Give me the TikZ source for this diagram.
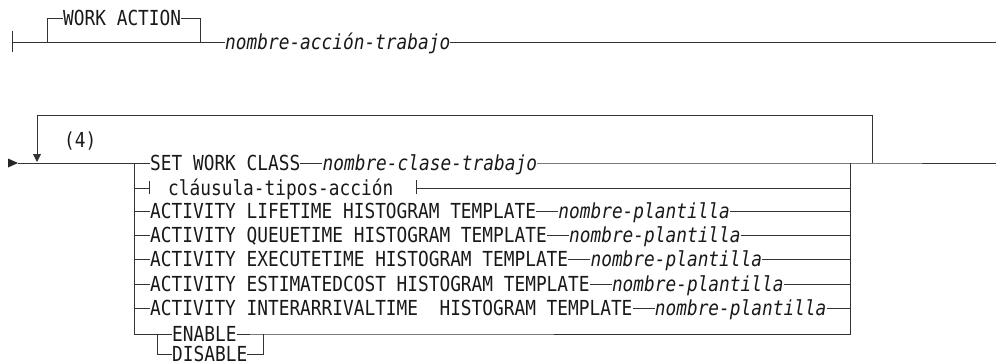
\documentclass[tikz,border=0pt]{standalone}
\usepackage{fontspec}
\newfontfamily\rrfont[FakeStretch=0.86]{DejaVu Sans Mono}
\usetikzlibrary{arrows.meta,positioning}

\begin{document}
\begin{tikzpicture}[
  x=1pt, y=-1pt,
  node distance=0pt and 22pt,
  kw/.style={inner sep=0pt,anchor=west,text height=14.5pt,text depth=0pt,
             text=black!90,font=\rrfont\fontsize{20.7}{22}\selectfont},
  var/.style={kw,font=\rrfont\fontsize{20.7}{22}\selectfont\itshape},
  rail/.style={line width=0.9pt,draw=black!80},
  tip/.style={-{Triangle[length=8pt,width=8pt]}}
]
\useasboundingbox (0,0) rectangle (997,364);

% top diagram
\coordinate (s1) at (12,42);
\coordinate (b1l) at (47,42);
\coordinate (b1r) at (200,42);
\coordinate (e1) at (996,42);
\node[kw]  (wa)  at (63,18)  {WORK ACTION};
\node[var] (nat) at (225,42) {nombre-acción-trabajo};

\draw[rail] ([yshift=-10pt]s1) -- ([yshift=11pt]s1);
\draw[rail] (s1) -- (nat.west);
\draw[rail] (b1l) |- (wa.west);
\draw[rail] (wa.east) -| (b1r);
\draw[rail] (nat.east) -- (e1);

% main diagram
\coordinate (s2) at (18,163);
\coordinate (jl) at (134,163);
\coordinate (jr) at (850,163);
\coordinate (e2) at (996,163);
\coordinate (lp) at (872,163);
\coordinate (lt) at (872,115);
\coordinate (la) at (37,162);
\fill[black!85] (8,158.5) -- (s2) -- (8,167.5) -- cycle;

\node[kw] (rep) at (64,140) {(4)};

\node[kw]              (swc)  at (150,163) {SET WORK CLASS};
\node[var,right=of swc] (ncl)  {nombre-clase-trabajo};

\node[kw] (cta) at (168,188) {cláusula-tipos-acción};
\coordinate (ctl) at (149,188);
\coordinate (ctr) at (416,188);

\node[kw]               (alt)   at (150,211) {ACTIVITY LIFETIME HISTOGRAM TEMPLATE};
\node[var,right=of alt] (alt-n) {nombre-plantilla};
\node[kw]               (aqt)   at (150,235) {ACTIVITY QUEUETIME HISTOGRAM TEMPLATE};
\node[var,right=of aqt] (aqt-n) {nombre-plantilla};
\node[kw]               (aet)   at (150,259) {ACTIVITY EXECUTETIME HISTOGRAM TEMPLATE};
\node[var,right=of aet] (aet-n) {nombre-plantilla};
\node[kw]               (aec)   at (150,284) {ACTIVITY ESTIMATEDCOST HISTOGRAM TEMPLATE};
\node[var,right=of aec] (aec-n) {nombre-plantilla};
\node[kw]               (aia)   at (150,308) {ACTIVITY INTERARRIVALTIME\ \ HISTOGRAM TEMPLATE};
\node[var,right=of aia] (aia-n) {nombre-plantilla};

\node[kw] (en)  at (172,334) {ENABLE};
\node[kw] (dis) at (172,354) {DISABLE};
\coordinate (el) at (157,334);
\coordinate (er) at (263,334);

% repeat loop
\draw[rail,tip] (lp) -- (lt) -| (la);

\draw[rail] (s2) -- (swc.west);
\draw[rail] (swc.east) -- (ncl.west);
\draw[rail] (ncl.east) -- (jr) -- (e2);

\draw[rail] (jl |- cta) -- (ctl);
\draw[rail] ([yshift=-6pt]ctl) -- ([yshift=7pt]ctl);
\draw[rail] ([yshift=-6pt]ctr) -- ([yshift=8pt]ctr);
\draw[rail] (ctr) -- (jr |- cta);

\draw[rail] (jl |- alt) -- (alt.west) (alt.east) -- (alt-n.west) (alt-n.east) -- (jr |- alt);
\draw[rail] (jl |- aqt) -- (aqt.west) (aqt.east) -- (aqt-n.west) (aqt-n.east) -- (jr |- aqt);
\draw[rail] (jl |- aet) -- (aet.west) (aet.east) -- (aet-n.west) (aet-n.east) -- (jr |- aet);
\draw[rail] (jl |- aec) -- (aec.west) (aec.east) -- (aec-n.west) (aec-n.east) -- (jr |- aec);
\draw[rail] (jl |- aia) -- (aia.west) (aia.east) -- (aia-n.west) (aia-n.east) -- (jr |- aia);

\draw[rail] (jl) -- (jl |- en) -- (en.west);
\draw[rail] (el) |- (dis.west);
\draw[rail] (dis.east) -| (er);
\draw[rail] (en.east) -- (er) -- (jr |- en) -- (jr);
\end{tikzpicture}
\end{document}
